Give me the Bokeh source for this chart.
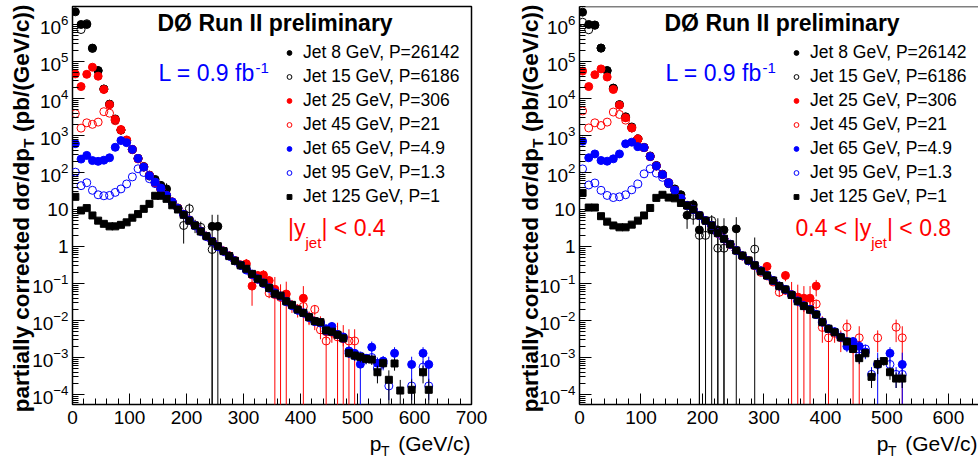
import math
from bokeh.plotting import figure
from bokeh.models import (Label, Legend, LegendItem, FixedTicker, GridBox,
                          SingleIntervalTicker, Span, Range1d)
from bokeh.embed import file_html
from bokeh.resources import INLINE

# ---------------- data: |y| < 0.4 (left panel) ----------------
L_J8_PT = [5, 15, 25, 35, 45, 55, 65, 75, 85, 95, 105, 115, 125, 135, 145, 155, 165, 245, 255]
L_J8_Y = [2.2e6, 1.0e6, 1.0e6, 2.3e5, 5.7e4, 1.8e4, 7.0e3, 2.8e3, 1.4e3, 730, 420, 240, 145, 85, 65, 45, 36, 3.5, 3.5]
L_J8_E = [0, 0, 0, 0, 0, 0, 0, 0, 0, 0, 0, 0, 0, 6, 10, 12, 15, 3.7, 3.7]

L_J15_PT = [15, 25, 35, 45, 55, 65, 75, 85, 95, 105, 115, 125, 135, 145, 155, 165, 175, 185, 195, 205, 215, 225, 245]
L_J15_Y = [7.3e5, 1.05e6, 2.25e5, 5.6e4, 1.8e4, 7.0e3, 2.6e3, 1.4e3, 720, 415, 240, 140, 80, 55, 36, 24, 16, 11,
           3.7, 10.5, 3.8, 3.3, 0.83]
L_J15_E = [0] * 13 + [5, 4, 4, 3, 3, 2.5, 4, 1.5, 1.4, 0.9]

L_J25_PT = [5 + 10 * k for k in range(48)]
L_J25_Y = [4.6e4, 2.1e4, 4.5e4, 7.0e4, 4.0e4, 1.75e4, 6.8e3, 2.7e3, 1.45e3, 760,
           420, 232, 140, 83, 52, 35, 24, 16, 10.8, 7.4,
           5.2, 3.7, 2.6, 1.9, 1.38, 1.02, 0.76, 0.56, 0.42, 0.32,
           0.34, 0.085, 0.165, 0.17, 0.12, 0.07, 0.045, 0.052, 0.026, 0.02,
           0.04, 0.0125, 0.0095, 0.009, 0.005, 0.005, 0.0042, 0.0035]
L_J25_E = [0] * 26 + [0.03, 0.03, 0.03, 0.04, 0.12, 0.06, 0.05, 0.06, 0.04, 0.08, 0.05, 0.06, 0.01, 0.008,
                      0.045, 0.005, 0.004, 0.004, 0.002, 0.0025, 0.0045, 0.004]

L_J45_PT = [5 + 10 * k for k in range(50)]
L_J45_Y = [3.9e3, 1.58e3, 2.2e3, 2.0e3, 2.3e3, 4.4e3, 4.0e3, 2.5e3, 1.4e3, 740,
           415, 240, 143, 84, 53, 35, 24, 16, 10.7, 7.4,
           5.2, 3.7, 2.6, 1.9, 1.38, 1.0, 0.75, 0.56, 0.41, 0.31,
           0.24, 0.17, 0.13, 0.10, 0.055, 0.05, 0.042, 0.033, 0.026, 0.02,
           0.024, 0.012, 0.02, 0.0056, 0.0028, 0.0048, 0.0036, 0.0032, 0.0028, 0.0028]
L_J45_E = [0] * 30 + [0.03, 0.03, 0.02, 0.015, 0.015, 0.012, 0.01, 0.008, 0.006, 0.005,
                      0.008, 0.004, 0.006, 0.0025, 0.003, 0.0015, 0.0012, 0.0012, 0.003, 0.003]

L_J65_PT = [5 + 10 * k for k in range(55)] + [565, 595, 615, 625]
L_J65_Y = [600, 230, 290, 210, 200, 215, 250, 480, 730, 640,
           420, 240, 140, 82, 55, 38, 24, 16, 10.7, 7.4,
           5.2, 3.7, 2.6, 1.9, 1.38, 1.0, 0.75, 0.55, 0.41, 0.31,
           0.24, 0.18, 0.135, 0.104, 0.077, 0.056, 0.046, 0.033, 0.026, 0.019,
           0.016, 0.0123, 0.0095, 0.0085, 0.006, 0.0069, 0.0042, 0.0036, 0.0015, 0.0013,
           0.00066, 0.00095, 0.0019, 0.0007, 0.0008,
           0.0013, 0.00065, 0.0013, 0.00065]
L_J65_E = [0] * 40 + [0.002, 0.0015, 0.0012, 0.0012, 0.001, 0.002, 0.0008, 0.0007, 0.0005, 0.0004,
                      0.0007, 0.0003, 0.0008, 0.0003, 0.0003, 0.0006, 0.0004, 0.0006, 0.0004]

L_J95_PT = [5 + 10 * k for k in range(56)] + [595, 615, 625]
L_J95_Y = [102, 44, 53, 33, 25, 23.5, 24, 29, 36, 49,
           76, 126, 100, 68, 50, 35, 24, 15.5, 10.5, 7.3,
           5.1, 3.6, 2.55, 1.85, 1.35, 0.98, 0.74, 0.55, 0.41, 0.31,
           0.23, 0.175, 0.13, 0.1, 0.074, 0.052, 0.045, 0.032, 0.025, 0.019,
           0.016, 0.012, 0.0093, 0.0088, 0.0052, 0.005, 0.0041, 0.0033, 0.0013, 0.0011,
           0.0011, 0.00095, 0.001, 0.00052, 0.0007, 0.00017,
           0.00017, 0.00055, 0.00017]
L_J95_E = [0] * 40 + [0.002, 0.0015, 0.0012, 0.0012, 0.0008, 0.0008, 0.0007, 0.0006, 0.0003, 0.0003,
                      0.0003, 0.00025, 0.0003, 0.00025, 0.00025, 0.0001, 0.0001, 0.00025, 0.0001]

L_J125_PT = [5 + 10 * k for k in range(58)] + [595, 615, 625]
L_J125_Y = [22, 9.4, 10.9, 6.9, 5.0, 4.1, 3.5, 3.5, 3.85, 4.5,
            6.0, 7.5, 10.4, 14.2, 23.5, 23.5, 19.4, 13, 10, 7.2,
            5.0, 3.7, 2.55, 1.9, 1.36, 1.02, 0.75, 0.55, 0.41, 0.31,
            0.25, 0.182, 0.134, 0.104, 0.076, 0.053, 0.047, 0.033, 0.0265, 0.0198,
            0.0161, 0.0123, 0.0096, 0.009, 0.0054, 0.005, 0.0041, 0.0033, 0.00131, 0.00113,
            0.00104, 0.00092, 0.00088, 0.0004, 0.0007, 0.00025, 0.00069, 0.000128,
            0.000134, 0.0004, 0.000134]
L_J125_E = [0] * 30 + [0.01, 0.008, 0.006, 0.005, 0.004, 0.003, 0.003, 0.002, 0.002, 0.0015,
                       0.0012, 0.001, 0.0008, 0.0008, 0.0005, 0.0005, 0.0004, 0.0004,
                       0.0003, 0.0003, 0.0003, 0.00025, 0.00025, 0.0002, 0.0002, 0.0002, 0.00025, 0.00012,
                       0.00012, 0.0002, 0.00012]

# ---------------- data: 0.4 < |y| < 0.8 (right panel) ----------------
R_J8_PT = [5 + 10 * k for k in range(17)] + [175, 185, 195, 215, 225, 235, 255]
R_J8_Y = [2.15e6, 1.0e6, 0.97e6, 2.3e5, 5.7e4, 1.9e4, 6.8e3, 3.2e3, 1.7e3, 810,
          480, 280, 155, 90, 50, 36, 25, 7.0, 13.4, 2.8, 2.8, 2.8, 2.8, 3.0]
R_J8_E = [0] * 13 + [6, 8, 10, 8, 4, 5, 3.0, 3.0, 3.0, 3.0, 3.2]

R_J15_PT = [5 + 10 * k for k in range(19)] + [195, 205, 215, 225, 235, 285]
R_J15_Y = [1.15e6, 7.2e5, 9.5e5, 2.3e5, 5.6e4, 1.9e4, 6.8e3, 3.1e3, 1.6e3, 800,
           470, 270, 150, 88, 53, 33, 20, 13, 6.9, 2.0, 2.0, 5.0, 0.9, 0.9, 0.85]
R_J15_E = [0] * 13 + [5, 5, 4, 3, 3, 3, 2.1, 2.1, 2.0, 1.0, 1.0, 0.9]

R_J25_PT = [5 + 10 * k for k in range(40)]
R_J25_Y = [5.5e4, 2.1e4, 4.4e4, 6.3e4, 3.8e4, 1.75e4, 6.6e3, 3.0e3, 1.6e3, 800,
           470, 270, 150, 88, 53, 33, 20, 12.8, 10, 6.9,
           5.0, 3.7, 2.3, 1.62, 1.15, 0.78, 0.56, 0.42, 0.31, 0.22,
           0.29, 0.12, 0.085, 0.165, 0.05, 0.043, 0.04, 0.04, 0.085, 0.009]
R_J25_E = [0] * 25 + [0.04, 0.03, 0.03, 0.03, 0.04, 0.08, 0.03, 0.025, 0.05, 0.06, 0.05, 0.045, 0.045, 0.04, 0.004]

R_J45_PT = [5 + 10 * k for k in range(44)] + [445, 455, 485, 515, 525]
R_J45_Y = [4.6e3, 1.6e3, 2.2e3, 1.86e3, 2.3e3, 4.3e3, 3.7e3, 2.6e3, 1.6e3, 790,
           470, 270, 150, 88, 53, 33, 20, 12.8, 10, 6.9,
           5.0, 3.7, 2.25, 1.6, 1.12, 0.78, 0.55, 0.41, 0.3, 0.2,
           0.16, 0.11, 0.058, 0.065, 0.05, 0.034, 0.025, 0.03, 0.028, 0.0065,
           0.0034, 0.0045, 0.0034, 0.0066, 0.0017, 0.0034, 0.0034, 0.0066, 0.0034]
R_J45_E = [0] * 30 + [0.03, 0.02, 0.015, 0.015, 0.012, 0.01, 0.008, 0.008, 0.008, 0.004,
                      0.0036, 0.002, 0.002, 0.004, 0.0018, 0.0036, 0.002, 0.004, 0.0036]

R_J65_PT = [5 + 10 * k for k in range(47)] + [485, 505, 525]
R_J65_Y = [700, 250, 317, 211, 202, 234, 317, 596, 660, 500,
           470, 270, 150, 88, 53, 33, 20, 12.8, 10, 6.9,
           5.0, 3.7, 2.3, 1.62, 1.15, 0.78, 0.56, 0.41, 0.31, 0.22,
           0.165, 0.12, 0.085, 0.069, 0.049, 0.033, 0.025, 0.02, 0.0145, 0.009,
           0.006, 0.0049, 0.0036, 0.002, 0.0027, 0.002, 0.0014, 0.00066, 0.0013, 0.00065]
R_J65_E = [0] * 40 + [0.0012, 0.001, 0.0008, 0.0006, 0.0008, 0.0008, 0.0005, 0.0007, 0.0006, 0.0007]

R_J95_PT = [5 + 10 * k for k in range(49)] + [505, 515, 525]
R_J95_Y = [125, 46, 52, 33, 24, 21, 22, 25, 34, 49,
           92, 126, 96, 74, 50, 33, 20, 12.8, 10, 6.9,
           5.0, 3.7, 2.3, 1.6, 1.15, 0.78, 0.56, 0.41, 0.31, 0.22,
           0.165, 0.12, 0.086, 0.068, 0.05, 0.034, 0.025, 0.02, 0.0145, 0.0092,
           0.006, 0.005, 0.0035, 0.0027, 0.0019, 0.0011, 0.0017, 0.00035, 0.00065,
           0.00065, 0.00035, 0.00035]
R_J95_E = [0] * 40 + [0.001, 0.0008, 0.0007, 0.0006, 0.0005, 0.0004, 0.0005, 0.0002, 0.0003, 0.0003, 0.0002, 0.0002]

R_J125_PT = [5 + 10 * k for k in range(53)]
R_J125_Y = [28, 11.3, 11.3, 6.6, 4.7, 3.7, 3.3, 3.3, 3.9, 5.0,
            6.9, 11.0, 20.6, 25, 21, 20, 15, 12.8, 10, 6.9,
            5.0, 3.7, 2.3, 1.62, 1.15, 0.78, 0.57, 0.42, 0.31, 0.214,
            0.165, 0.12, 0.085, 0.069, 0.049, 0.033, 0.0245, 0.0195, 0.0145, 0.009,
            0.006, 0.0048, 0.0035, 0.0027, 0.0017, 0.00096, 0.0013, 0.0003, 0.00066, 0.0008,
            0.0004, 0.00027, 0.00027]
R_J125_E = [0] * 30 + [0.008, 0.006, 0.005, 0.004, 0.003, 0.0025, 0.002, 0.0015, 0.0012, 0.001,
                       0.0008, 0.0006, 0.0005, 0.0004, 0.0003, 0.0003, 0.0003, 0.00015, 0.0003, 0.0002,
                       0.00015, 0.00012, 0.00012]

LEGEND_LABELS = ["Jet 8 GeV, P=26142", "Jet 15 GeV, P=6186", "Jet 25 GeV, P=306", "Jet 45 GeV, P=21",
                 "Jet 65 GeV, P=4.9", "Jet 95 GeV, P=1.3", "Jet 125 GeV, P=1"]
Y_TICKS = [10.0 ** e for e in range(-4, 7)]

LEFT = [(L_J8_PT, L_J8_Y, L_J8_E), (L_J15_PT, L_J15_Y, L_J15_E), (L_J25_PT, L_J25_Y, L_J25_E),
        (L_J45_PT, L_J45_Y, L_J45_E), (L_J65_PT, L_J65_Y, L_J65_E), (L_J95_PT, L_J95_Y, L_J95_E),
        (L_J125_PT, L_J125_Y, L_J125_E)]
RIGHT = [(R_J8_PT, R_J8_Y, R_J8_E), (R_J15_PT, R_J15_Y, R_J15_E), (R_J25_PT, R_J25_Y, R_J25_E),
         (R_J45_PT, R_J45_Y, R_J45_E), (R_J65_PT, R_J65_Y, R_J65_E), (R_J95_PT, R_J95_Y, R_J95_E),
         (R_J125_PT, R_J125_Y, R_J125_E)]

# ---------------- styling ----------------
FONT = "Liberation Sans"
BLACK, RED, BLUE = "#000000", "#ff0000", "#0000ff"
STYLES = [("circle", True, BLACK), ("circle", False, BLACK), ("circle", True, RED), ("circle", False, RED),
          ("circle", True, BLUE), ("circle", False, BLUE), ("square", True, BLACK)]
Y_MIN, Y_MAX = 10 ** -4.27, 10 ** 6.486
FLOOR = 1e-8
FIG_H = 459
PAGE_W = 978
BASE_SHIFT = 0.32   # em; lifts the drawn baseline onto the intended one


def text(p, x, y, t, size, color=BLACK, bold=False, align="left", angle=0.0):
    if angle:
        x -= BASE_SHIFT * size
    else:
        y += BASE_SHIFT * size
    p.add_layout(Label(x=x, y=y, x_units="screen", y_units="screen", text=t,
                       text_font=FONT, text_font_size=f"{size}px",
                       text_font_style="bold" if bold else "normal",
                       text_color=color, text_align=align, text_baseline="alphabetic",
                       angle=angle))


def build(series, xmax, width, bl, br, yjet, outline):
    p = figure(width=width, height=FIG_H, x_range=Range1d(0, xmax), y_range=Range1d(Y_MIN, Y_MAX),
               y_axis_type="log", output_backend="svg", toolbar_location=None,
               min_border_left=bl, min_border_right=br, min_border_top=6, min_border_bottom=55)
    p.background_fill_color = "white"
    p.border_fill_color = "white"
    p.grid.visible = False
    if outline:
        p.outline_line_color = BLACK
        p.outline_line_width = 1.5
        p.xaxis.axis_line_color = None
        p.yaxis.axis_line_color = None
    else:
        p.outline_line_color = None
        p.xaxis.axis_line_width = 1.5
        p.yaxis.axis_line_width = 1.5
        p.add_layout(Span(location=Y_MAX, dimension="width", line_color=BLACK, line_width=1.5))

    p.xaxis.ticker = SingleIntervalTicker(interval=100, num_minor_ticks=5)
    p.yaxis.ticker = FixedTicker(ticks=Y_TICKS,
                                 minor_ticks=[m * 10.0 ** e for e in range(-5, 7) for m in range(2, 10)])
    p.yaxis.major_label_overrides = {1: "1", 10: "10"}
    for ax, tin in ((p.xaxis, 11), (p.yaxis, 12)):
        ax.major_tick_in = tin
        ax.major_tick_out = 0
        ax.minor_tick_in = 6
        ax.minor_tick_out = 0
        ax.major_tick_line_color = BLACK
        ax.minor_tick_line_color = BLACK
        ax.major_label_text_font = FONT
        ax.major_label_text_font_size = "19px"
        ax.major_label_text_color = BLACK
    p.xaxis.major_label_standoff = 6
    p.yaxis.major_label_standoff = 4

    items = []
    for (pts, ys, es), (marker, filled, color), lab in zip(series, STYLES, LEGEND_LABELS):
        xe = [x for x, e in zip(pts, es) if e > 0]
        lo = [max(y - e, FLOOR) for y, e in zip(ys, es) if e > 0]
        hi = [y + e for y, e in zip(ys, es) if e > 0]
        if xe:
            p.segment(x0=xe, y0=lo, x1=xe, y1=hi, line_color=color, line_width=1)
        r = p.scatter(x=pts, y=ys, marker=marker, size=8 if marker == "circle" else 7,
                      fill_color=color if filled else None, line_color=color, line_width=1)
        items.append(LegendItem(label=lab, renderers=[r]))

    legend = Legend(items=items, location=(211, 197), orientation="vertical",
                    background_fill_alpha=0, border_line_alpha=0, padding=0, margin=0,
                    spacing=3, glyph_width=12, glyph_height=21, label_height=21, label_standoff=8,
                    label_text_font=FONT, label_text_font_size="17.5px", label_text_color=BLACK)
    p.add_layout(legend)

    text(p, 85, 374, "DØ Run II preliminary", 23, bold=True)
    text(p, 86, 324, "L = 0.9 fb", 23, color=BLUE)
    text(p, 183, 332, "-1", 15, color=BLUE)
    for x, y, t, s in yjet:
        text(p, x, y, t, s, color=RED)
    return p


YJET_L = [(215.5, 169, "|y", 23), (233, 157, "jet", 15), (249, 169, "| < 0.4", 23)]
YJET_R = [(216, 169, "0.4 < |y", 23), (291.7, 157, "jet", 15), (307.5, 169, "| < 0.8", 23)]

LEFT_W, RIGHT_W = 510, 468
p1 = build(LEFT, 700, LEFT_W, 72, 39, YJET_L, True)
p2 = build(RIGHT, 649, RIGHT_W, 69, 0, YJET_R, False)

# transparent overlay that carries the axis titles lying outside the plot frames
ov = figure(width=PAGE_W, height=FIG_H, x_range=Range1d(0, 1), y_range=Range1d(0, 1),
            output_backend="svg", toolbar_location=None, title=None,
            x_axis_location=None, y_axis_location=None, min_border=0)
ov.background_fill_color = None
ov.border_fill_color = None
ov.outline_line_color = None
ov.grid.visible = False
if "frame_align" in ov.properties():
    ov.frame_align = False

A = math.pi / 2
for frame_left, frame_right, dx in ((72, 471, 44), (LEFT_W + 69, PAGE_W, 42)):
    # x-axis title  p_T (GeV/c), right-aligned at the end of the axis
    xr = frame_right - 1
    text(ov, xr, 9, "(GeV/c)", 21, align="right")
    text(ov, xr - 81, 4, "T", 14, align="right")
    text(ov, xr - 89, 9, "p", 21, align="right")
    # y-axis title, rotated, right-aligned at the top of the axis
    bx = frame_left - dx
    text(ov, bx, 455, "(pb/(GeV/c))", 22.5, bold=True, align="right", angle=A)
    text(ov, bx + 5, 321, "T", 15.5, bold=True, align="right", angle=A)
    text(ov, bx, 311.5, "partially corrected dσ/dp", 22.5, bold=True, align="right", angle=A)

layout = GridBox(children=[(p1, 0, 0), (p2, 0, 1), (ov, 0, 0, 1, 2)])
open("out.html", "w").write(file_html(layout, INLINE))
